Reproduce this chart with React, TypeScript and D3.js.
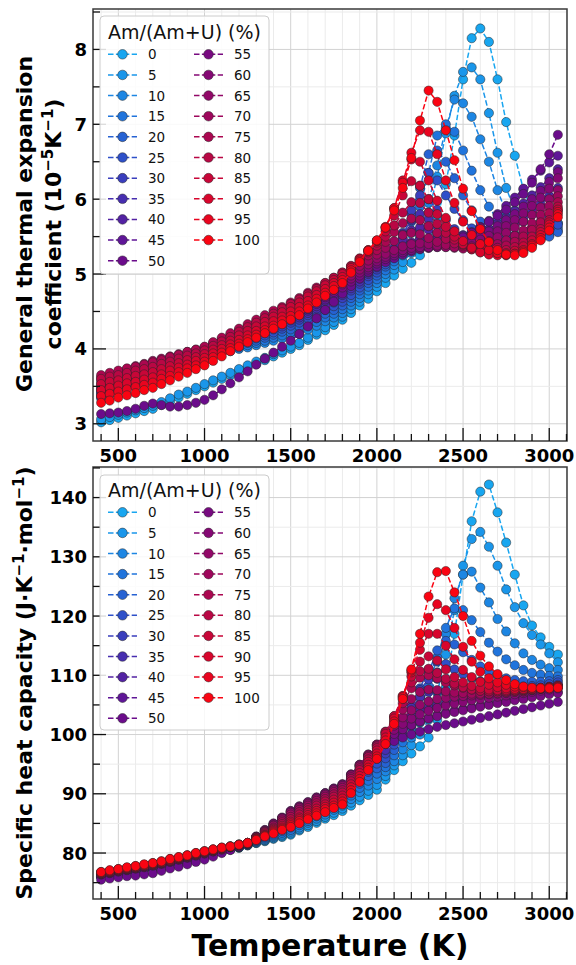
import React from "react";
import * as d3 from "d3";

// ---------- data ----------
const TEMPERATURES = [400,450,500,550,600,650,700,750,800,850,900,950,1000,1050,1100,1150,1200,1250,1300,1350,1400,1450,1500,1550,1600,1650,1700,1750,1800,1850,1900,1950,2000,2050,2100,2150,2200,2250,2300,2350,2400,2450,2500,2550,2600,2650,2700,2750,2800,2850,2900,2950,3000,3050];

const COMPOSITIONS = [0,5,10,15,20,25,30,35,40,45,50,55,60,65,70,75,80,85,90,95,100];

const SERIES_COLORS = ["#18a6f0","#1a96ea","#1d86e3","#2074dc","#2662d3","#2e50c9","#3a3ebd","#472eb0","#5322a3","#5f1697","#6b0c8b","#780a80","#850874","#920868","#9e075c","#ab0750","#b90744","#c80638","#d8052c","#e9041f","#fa0412"];

// General thermal expansion coefficient (1e-5 K^-1)
const ALPHA_00 = [3.02,3.05,3.08,3.11,3.14,3.17,3.20,3.25,3.30,3.35,3.40,3.45,3.50,3.55,3.60,3.65,3.70,3.75,3.80,3.85,3.90,3.95,4.00,4.05,4.12,4.19,4.25,4.32,4.39,4.48,4.58,4.67,4.77,4.88,4.98,5.07,5.15,5.25,5.40,5.75,6.20,6.85,7.60,8.15,8.28,8.10,7.60,7.03,6.58,6.13,5.85,5.70,5.65,5.68];
const ALPHA_05 = [3.06,3.09,3.12,3.15,3.18,3.21,3.24,3.29,3.34,3.39,3.43,3.48,3.53,3.58,3.63,3.68,3.73,3.78,3.83,3.88,3.93,3.98,4.03,4.08,4.15,4.22,4.29,4.36,4.43,4.53,4.63,4.73,4.83,4.95,5.06,5.16,5.28,5.48,5.82,6.30,6.88,7.38,7.70,7.76,7.60,7.15,6.62,6.15,5.85,5.70,5.62,5.60,5.62,5.68];
const ALPHA_10 = [3.34,3.39,3.43,3.48,3.53,3.57,3.62,3.67,3.71,3.76,3.81,3.85,3.90,3.92,3.95,3.97,4.00,4.02,4.05,4.08,4.11,4.14,4.17,4.20,4.26,4.31,4.37,4.42,4.48,4.58,4.68,4.78,4.88,5.00,5.12,5.25,5.40,5.60,5.95,6.45,6.95,7.33,7.28,7.10,6.80,6.50,6.12,5.82,5.65,5.55,5.52,5.52,5.56,5.62];
const ALPHA_15 = [3.36,3.41,3.45,3.50,3.55,3.59,3.64,3.68,3.73,3.77,3.82,3.86,3.91,3.94,3.97,3.99,4.02,4.05,4.08,4.11,4.15,4.18,4.22,4.25,4.31,4.36,4.42,4.47,4.53,4.63,4.73,4.83,4.93,5.05,5.17,5.32,5.55,5.90,6.35,6.85,7.00,6.90,6.65,6.38,6.12,5.90,5.72,5.60,5.52,5.48,5.47,5.48,5.52,5.58];
const ALPHA_20 = [3.38,3.43,3.47,3.52,3.57,3.61,3.66,3.70,3.75,3.79,3.83,3.88,3.92,3.95,3.98,4.02,4.05,4.08,4.11,4.15,4.19,4.23,4.26,4.30,4.36,4.41,4.47,4.52,4.58,4.68,4.78,4.88,4.98,5.10,5.22,5.40,5.70,6.15,6.60,6.65,6.50,6.28,6.05,5.85,5.70,5.58,5.50,5.45,5.42,5.42,5.43,5.46,5.50,5.56];
const ALPHA_25 = [3.40,3.45,3.49,3.54,3.59,3.63,3.68,3.72,3.76,3.80,3.85,3.89,3.93,3.97,4.00,4.04,4.07,4.11,4.14,4.18,4.22,4.27,4.31,4.35,4.41,4.46,4.52,4.57,4.63,4.72,4.82,4.92,5.02,5.13,5.27,5.48,5.80,6.18,6.35,6.25,6.05,5.87,5.72,5.61,5.53,5.48,5.45,5.44,5.44,5.46,5.49,5.53,5.59,5.66];
const ALPHA_30 = [3.42,3.47,3.51,3.56,3.61,3.65,3.70,3.74,3.78,3.82,3.86,3.90,3.94,3.98,4.02,4.06,4.09,4.13,4.17,4.21,4.26,4.30,4.35,4.39,4.45,4.51,4.57,4.62,4.68,4.78,4.87,4.97,5.06,5.18,5.33,5.55,5.85,6.05,6.00,5.86,5.72,5.60,5.52,5.47,5.45,5.45,5.46,5.48,5.51,5.55,5.61,5.68,5.76,5.86];
const ALPHA_35 = [3.44,3.49,3.53,3.58,3.63,3.67,3.72,3.76,3.80,3.84,3.87,3.91,3.95,3.99,4.03,4.08,4.12,4.16,4.20,4.24,4.29,4.33,4.38,4.42,4.48,4.54,4.60,4.66,4.72,4.81,4.90,5.00,5.09,5.20,5.35,5.53,5.72,5.80,5.74,5.64,5.56,5.50,5.48,5.48,5.50,5.53,5.57,5.62,5.68,5.75,5.83,5.93,6.04,6.15];
const ALPHA_40 = [3.46,3.51,3.55,3.60,3.65,3.69,3.74,3.78,3.81,3.85,3.89,3.92,3.96,4.00,4.05,4.09,4.13,4.18,4.22,4.27,4.31,4.36,4.40,4.45,4.51,4.57,4.64,4.70,4.76,4.85,4.94,5.02,5.11,5.20,5.32,5.46,5.58,5.62,5.59,5.53,5.49,5.48,5.49,5.51,5.55,5.60,5.67,5.75,5.84,5.94,6.05,6.16,6.28,6.40];
const ALPHA_45 = [3.48,3.53,3.57,3.62,3.67,3.71,3.76,3.80,3.83,3.87,3.90,3.94,3.97,4.02,4.06,4.11,4.15,4.20,4.24,4.29,4.33,4.38,4.42,4.47,4.53,4.60,4.66,4.73,4.79,4.87,4.95,5.04,5.12,5.18,5.26,5.34,5.42,5.46,5.47,5.47,5.47,5.48,5.51,5.56,5.63,5.71,5.80,5.91,6.02,6.14,6.26,6.38,6.49,6.58];
const ALPHA_50 = [3.13,3.14,3.15,3.17,3.20,3.24,3.27,3.25,3.23,3.23,3.25,3.28,3.32,3.38,3.46,3.54,3.62,3.70,3.79,3.87,3.95,4.03,4.11,4.20,4.30,4.41,4.52,4.63,4.74,4.84,4.94,5.03,5.10,5.16,5.21,5.26,5.30,5.33,5.35,5.37,5.40,5.44,5.49,5.55,5.62,5.70,5.78,5.86,5.96,6.07,6.22,6.40,6.60,6.86];
const ALPHA_55 = [3.50,3.55,3.59,3.64,3.69,3.73,3.78,3.81,3.85,3.88,3.91,3.95,3.98,4.03,4.08,4.14,4.19,4.24,4.29,4.33,4.37,4.42,4.46,4.50,4.56,4.63,4.69,4.76,4.82,4.90,4.98,5.06,5.14,5.20,5.25,5.29,5.32,5.34,5.35,5.36,5.37,5.39,5.42,5.46,5.51,5.57,5.64,5.72,5.80,5.90,6.00,6.11,6.23,6.36];
const ALPHA_60 = [3.54,3.58,3.63,3.67,3.71,3.76,3.80,3.83,3.86,3.90,3.93,3.96,3.99,4.04,4.10,4.15,4.20,4.26,4.31,4.35,4.40,4.44,4.49,4.53,4.60,4.66,4.73,4.79,4.86,4.94,5.02,5.09,5.17,5.23,5.28,5.32,5.35,5.36,5.36,5.36,5.36,5.37,5.39,5.42,5.46,5.51,5.57,5.64,5.72,5.81,5.91,6.02,6.14,6.28];
const ALPHA_65 = [3.58,3.62,3.66,3.70,3.74,3.78,3.82,3.85,3.88,3.91,3.94,3.97,4.00,4.06,4.11,4.17,4.22,4.28,4.33,4.38,4.43,4.47,4.52,4.57,4.64,4.70,4.77,4.83,4.90,4.98,5.06,5.13,5.21,5.27,5.32,5.37,5.40,5.41,5.40,5.38,5.36,5.35,5.35,5.37,5.40,5.44,5.49,5.55,5.62,5.70,5.79,5.89,6.00,6.12];
const ALPHA_70 = [3.62,3.66,3.69,3.73,3.77,3.80,3.84,3.87,3.90,3.93,3.96,3.99,4.02,4.08,4.13,4.19,4.25,4.30,4.36,4.41,4.46,4.52,4.57,4.62,4.69,4.75,4.82,4.88,4.95,5.03,5.11,5.18,5.26,5.35,5.44,5.52,5.55,5.53,5.48,5.43,5.39,5.36,5.34,5.33,5.34,5.36,5.40,5.45,5.51,5.58,5.68,5.79,5.91,6.04];
const ALPHA_75 = [3.65,3.68,3.71,3.74,3.76,3.79,3.82,3.85,3.89,3.92,3.96,3.99,4.03,4.09,4.15,4.21,4.27,4.33,4.39,4.45,4.51,4.56,4.62,4.68,4.75,4.82,4.88,4.95,5.02,5.10,5.17,5.25,5.32,5.43,5.56,5.68,5.74,5.72,5.64,5.55,5.47,5.41,5.37,5.34,5.33,5.33,5.35,5.38,5.43,5.50,5.59,5.69,5.81,5.96];
const ALPHA_80 = [3.60,3.63,3.65,3.68,3.71,3.73,3.76,3.80,3.83,3.87,3.91,3.94,3.98,4.04,4.10,4.16,4.23,4.29,4.35,4.41,4.47,4.54,4.60,4.66,4.73,4.80,4.88,4.95,5.02,5.11,5.20,5.29,5.38,5.50,5.65,5.82,5.96,5.95,5.82,5.67,5.55,5.46,5.39,5.34,5.31,5.30,5.30,5.32,5.36,5.42,5.50,5.60,5.72,5.90];
const ALPHA_85 = [3.53,3.56,3.58,3.61,3.64,3.66,3.69,3.73,3.77,3.81,3.85,3.89,3.93,3.99,4.05,4.11,4.18,4.24,4.30,4.36,4.43,4.49,4.56,4.62,4.70,4.77,4.85,4.92,5.00,5.10,5.21,5.31,5.42,5.57,5.78,6.05,6.24,6.18,6.00,5.80,5.63,5.50,5.40,5.33,5.29,5.27,5.27,5.28,5.31,5.37,5.45,5.56,5.69,5.86];
const ALPHA_90 = [3.45,3.48,3.51,3.54,3.56,3.59,3.62,3.66,3.71,3.75,3.79,3.84,3.88,3.94,4.00,4.06,4.12,4.18,4.24,4.30,4.37,4.43,4.50,4.56,4.64,4.72,4.80,4.88,4.96,5.08,5.20,5.32,5.44,5.62,5.88,6.25,6.53,6.50,6.25,5.98,5.75,5.57,5.44,5.35,5.29,5.26,5.25,5.25,5.27,5.32,5.40,5.52,5.66,5.83];
const ALPHA_95 = [3.37,3.40,3.43,3.46,3.49,3.52,3.55,3.60,3.64,3.69,3.74,3.78,3.83,3.89,3.95,4.01,4.07,4.13,4.19,4.25,4.31,4.38,4.44,4.50,4.58,4.67,4.75,4.84,4.92,5.05,5.18,5.32,5.45,5.63,5.88,6.22,6.62,6.92,6.90,6.60,6.25,5.95,5.70,5.52,5.40,5.32,5.28,5.26,5.27,5.30,5.38,5.48,5.62,5.80];
const ALPHA_100 = [3.28,3.31,3.35,3.38,3.41,3.45,3.48,3.53,3.58,3.63,3.68,3.73,3.78,3.84,3.90,3.97,4.03,4.09,4.15,4.21,4.27,4.33,4.39,4.45,4.54,4.62,4.71,4.79,4.88,5.02,5.16,5.31,5.45,5.62,5.85,6.15,6.55,7.05,7.45,7.30,6.92,6.52,6.14,5.84,5.60,5.43,5.32,5.26,5.25,5.28,5.35,5.45,5.58,5.76];

// Specific heat capacity (J K^-1 mol^-1)
const CP_00 = [76.0,76.3,76.5,76.8,77.0,77.3,77.5,77.8,78.2,78.5,78.8,79.2,79.5,79.9,80.2,80.6,80.9,81.3,81.7,82.0,82.4,82.7,83.1,83.8,84.4,85.1,85.8,86.4,87.1,88.0,88.9,89.8,90.7,92.4,94.0,95.5,96.8,98.0,99.5,102.5,108.0,117.0,127.0,136.0,141.0,142.2,137.5,132.4,127.0,121.8,118.4,116.4,114.8,113.5];
const CP_05 = [76.0,76.3,76.5,76.8,77.0,77.3,77.5,77.8,78.2,78.5,78.8,79.2,79.5,79.9,80.2,80.6,80.9,81.3,81.7,82.1,82.5,82.9,83.3,84.0,84.7,85.4,86.1,86.8,87.5,88.5,89.5,90.5,91.5,93.0,94.8,96.5,98.2,100.0,102.5,107.0,113.5,121.0,128.5,133.0,134.2,131.7,128.5,124.5,121.5,118.8,116.8,115.2,113.7,112.2];
const CP_10 = [76.1,76.3,76.6,76.8,77.1,77.3,77.6,77.9,78.2,78.6,78.9,79.2,79.6,79.9,80.3,80.6,81.0,81.4,81.8,82.2,82.7,83.1,83.6,84.3,85.1,85.8,86.5,87.3,88.0,89.1,90.3,91.4,92.5,93.8,95.5,97.5,99.5,102.0,105.5,110.5,117.0,123.0,127.0,127.5,124.8,122.3,119.5,117.4,115.4,113.7,112.6,111.8,111.2,110.9];
const CP_15 = [76.1,76.3,76.6,76.8,77.1,77.3,77.6,77.9,78.2,78.6,78.9,79.2,79.6,79.9,80.3,80.7,81.0,81.4,81.9,82.4,82.9,83.4,83.9,84.7,85.4,86.2,87.0,87.7,88.5,89.7,91.0,92.2,93.4,94.5,96.5,98.7,101.2,104.2,108.2,113.0,118.0,121.3,121.0,119.3,117.3,115.5,114.0,112.7,111.7,110.9,110.4,110.1,109.9,109.8];
const CP_20 = [76.1,76.4,76.6,76.9,77.1,77.4,77.6,77.9,78.3,78.6,78.9,79.3,79.6,80.0,80.3,80.7,81.0,81.4,82.0,82.6,83.1,83.7,84.3,85.1,85.9,86.7,87.4,88.2,89.0,90.3,91.7,93.0,94.3,95.2,97.4,99.9,102.8,106.4,110.5,114.2,115.8,115.2,113.9,112.6,111.5,110.6,110.0,109.5,109.2,109.0,108.9,108.9,109.0,109.2];
const CP_25 = [76.1,76.4,76.6,76.9,77.1,77.4,77.6,77.9,78.3,78.6,78.9,79.3,79.6,80.0,80.3,80.7,81.1,81.5,82.1,82.8,83.5,84.1,84.8,85.6,86.4,87.2,88.0,88.8,89.6,91.0,92.4,93.7,95.1,96.0,98.3,101.0,104.2,107.8,111.0,112.3,111.9,111.0,110.2,109.5,109.0,108.6,108.3,108.2,108.1,108.1,108.2,108.3,108.5,108.8];
const CP_30 = [76.2,76.4,76.7,76.9,77.2,77.4,77.7,78.0,78.3,78.7,79.0,79.3,79.7,80.0,80.4,80.8,81.1,81.5,82.3,83.0,83.8,84.5,85.3,86.1,86.9,87.8,88.6,89.4,90.2,91.6,93.1,94.5,95.9,96.8,99.2,101.9,104.8,107.5,109.3,109.4,108.9,108.3,107.9,107.6,107.4,107.3,107.3,107.3,107.4,107.5,107.7,107.9,108.1,108.4];
const CP_35 = [76.2,76.4,76.7,76.9,77.2,77.4,77.7,78.0,78.3,78.7,79.0,79.3,79.7,80.0,80.4,80.8,81.1,81.5,82.4,83.2,84.1,84.9,85.8,86.6,87.4,88.3,89.1,89.9,90.7,92.2,93.7,95.1,96.6,97.4,99.8,102.2,104.5,106.3,107.2,107.3,107.0,106.8,106.7,106.7,106.7,106.8,106.9,107.0,107.1,107.3,107.5,107.7,107.9,108.1];
const CP_40 = [76.2,76.5,76.7,77.0,77.2,77.5,77.7,78.0,78.4,78.7,79.0,79.4,79.7,80.1,80.4,80.8,81.2,81.6,82.5,83.5,84.4,85.4,86.3,87.1,87.9,88.7,89.5,90.3,91.1,92.6,94.2,95.7,97.2,98.5,100.2,101.8,103.1,104.0,104.6,105.0,105.3,105.6,105.9,106.1,106.3,106.5,106.7,106.9,107.1,107.3,107.5,107.7,107.9,108.1];
const CP_45 = [76.2,76.5,76.7,77.0,77.2,77.5,77.7,78.0,78.4,78.7,79.0,79.4,79.7,80.1,80.5,80.8,81.2,81.6,82.6,83.6,84.7,85.7,86.7,87.5,88.3,89.1,89.8,90.6,91.4,93.0,94.6,96.1,97.7,98.4,99.6,100.6,101.5,102.2,102.8,103.3,103.7,104.0,104.3,104.6,104.9,105.2,105.5,105.7,106.0,106.2,106.5,106.7,107.0,107.2];
const CP_50 = [75.5,75.7,75.9,76.1,76.2,76.4,76.6,77.0,77.4,77.7,78.1,78.5,78.9,79.4,80.0,80.5,81.1,81.6,82.7,83.8,84.8,85.9,87.0,87.8,88.5,89.3,90.1,90.8,91.6,93.2,94.8,96.4,98.0,98.4,98.9,99.5,100.0,100.5,100.9,101.3,101.6,101.9,102.2,102.5,102.8,103.1,103.4,103.7,104.0,104.3,104.6,104.9,105.2,105.5];
const CP_55 = [76.4,76.6,76.9,77.1,77.4,77.6,77.9,78.2,78.5,78.9,79.2,79.6,79.9,80.3,80.6,81.0,81.3,81.7,82.8,83.9,85.0,86.0,87.1,87.9,88.6,89.4,90.1,90.9,91.6,93.3,94.9,96.6,98.2,99.2,100.1,100.9,101.6,102.2,102.7,103.1,103.5,103.8,104.1,104.4,104.7,105.0,105.3,105.5,105.8,106.0,106.3,106.5,106.8,107.0];
const CP_60 = [76.4,76.7,76.9,77.2,77.4,77.7,77.9,78.2,78.6,78.9,79.3,79.6,80.0,80.3,80.6,81.0,81.3,81.7,82.7,83.8,84.9,85.9,87.0,87.8,88.5,89.3,90.0,90.8,91.5,93.2,94.9,96.6,98.3,99.6,100.8,101.8,102.7,103.4,104.0,104.5,104.9,105.2,105.5,105.8,106.0,106.2,106.4,106.6,106.8,107.0,107.2,107.4,107.6,107.8];
const CP_65 = [76.5,76.7,77.0,77.2,77.5,77.7,78.0,78.3,78.6,79.0,79.3,79.7,80.0,80.3,80.7,81.0,81.3,81.7,82.7,83.7,84.7,85.8,86.8,87.6,88.3,89.1,89.8,90.6,91.3,93.1,94.8,96.6,98.3,100.0,101.5,102.9,104.1,105.0,105.6,106.0,106.2,106.4,106.5,106.6,106.7,106.8,106.9,107.0,107.2,107.3,107.5,107.7,107.9,108.1];
const CP_70 = [76.5,76.8,77.0,77.3,77.5,77.8,78.0,78.3,78.7,79.0,79.4,79.7,80.1,80.4,80.7,81.0,81.4,81.7,82.7,83.6,84.6,85.5,86.5,87.3,88.0,88.8,89.5,90.3,91.0,92.8,94.6,96.4,98.2,100.3,102.2,104.2,106.0,107.2,107.6,107.5,107.3,107.1,107.0,106.9,106.9,106.9,107.0,107.1,107.2,107.3,107.5,107.7,107.9,108.1];
const CP_75 = [76.6,76.8,77.1,77.3,77.6,77.8,78.1,78.4,78.7,79.1,79.4,79.8,80.1,80.4,80.7,81.1,81.4,81.7,82.6,83.5,84.3,85.2,86.1,86.9,87.6,88.4,89.1,89.9,90.6,92.5,94.3,96.2,98.0,100.5,102.8,105.3,107.8,109.6,110.0,109.5,108.8,108.3,107.9,107.6,107.4,107.3,107.3,107.3,107.4,107.5,107.6,107.8,108.0,108.2];
const CP_80 = [76.6,76.9,77.1,77.4,77.6,77.9,78.1,78.4,78.8,79.1,79.5,79.8,80.2,80.5,80.8,81.1,81.4,81.7,82.5,83.3,84.1,84.9,85.7,86.5,87.2,88.0,88.7,89.5,90.2,92.1,94.0,95.8,97.7,100.4,103.1,106.0,108.8,110.7,111.1,110.4,109.4,108.6,108.0,107.6,107.4,107.3,107.3,107.3,107.4,107.5,107.6,107.8,108.0,108.2];
const CP_85 = [76.7,76.9,77.2,77.4,77.7,77.9,78.2,78.5,78.8,79.2,79.5,79.9,80.2,80.5,80.8,81.1,81.4,81.7,82.4,83.1,83.9,84.6,85.3,86.0,86.8,87.5,88.2,89.0,89.7,91.6,93.5,95.4,97.3,100.1,103.1,106.5,109.8,112.3,113.2,112.5,111.0,109.7,108.8,108.2,107.8,107.6,107.5,107.5,107.5,107.6,107.7,107.8,108.0,108.2];
const CP_90 = [76.7,77.0,77.2,77.5,77.7,78.0,78.2,78.5,78.9,79.2,79.6,79.9,80.3,80.6,80.9,81.1,81.4,81.7,82.4,83.0,83.7,84.3,85.0,85.7,86.4,87.1,87.8,88.5,89.2,91.1,93.0,94.9,96.8,99.5,102.7,106.5,110.5,114.3,117.0,117.0,115.0,112.7,110.9,109.7,108.9,108.4,108.0,107.8,107.7,107.7,107.7,107.8,107.9,108.1];
const CP_95 = [76.8,77.0,77.3,77.5,77.8,78.0,78.3,78.6,79.0,79.3,79.6,80.0,80.3,80.6,80.9,81.1,81.4,81.7,82.3,82.9,83.5,84.1,84.7,85.4,86.0,86.7,87.4,88.0,88.7,90.6,92.5,94.4,96.3,99.0,102.2,106.3,110.8,115.5,119.7,122.0,121.0,118.0,114.8,112.3,110.6,109.5,108.8,108.4,108.1,108.0,107.9,107.9,107.9,108.0];
const CP_100 = [76.8,77.1,77.3,77.6,77.8,78.1,78.3,78.6,79.0,79.3,79.6,80.0,80.3,80.6,80.9,81.1,81.4,81.7,82.2,82.8,83.3,83.9,84.4,85.0,85.7,86.3,86.9,87.6,88.2,90.1,92.0,94.0,95.9,98.4,101.8,106.0,111.0,117.0,123.3,127.4,127.6,124.0,120.0,115.8,113.3,111.5,110.2,109.2,108.5,108.1,107.9,107.8,107.8,107.9];

const ALPHA_SERIES = [ALPHA_00,ALPHA_05,ALPHA_10,ALPHA_15,ALPHA_20,ALPHA_25,ALPHA_30,ALPHA_35,ALPHA_40,ALPHA_45,ALPHA_50,ALPHA_55,ALPHA_60,ALPHA_65,ALPHA_70,ALPHA_75,ALPHA_80,ALPHA_85,ALPHA_90,ALPHA_95,ALPHA_100];
const CP_SERIES = [CP_00,CP_05,CP_10,CP_15,CP_20,CP_25,CP_30,CP_35,CP_40,CP_45,CP_50,CP_55,CP_60,CP_65,CP_70,CP_75,CP_80,CP_85,CP_90,CP_95,CP_100];

const X_TICKS = [500, 1000, 1500, 2000, 2500, 3000];
const ALPHA_TICKS = [3, 4, 5, 6, 7, 8];
const CP_TICKS = [80, 90, 100, 110, 120, 130, 140];

// ---------- layout ----------
const W = 576;
const H = 965;
const FONT = "'DejaVu Sans', 'Liberation Sans', sans-serif";
const PL = 93;
const PR = 567;
const x = d3.scaleLinear().domain([353, 3103]).range([PL, PR]);
const X_MINOR = d3.range(400, 3101, 100);

type PanelProps = {
  id: string;
  series: number[][];
  yDomain: [number, number];
  top: number;
  bottom: number;
  majorY: number[];
  minorY: number[];
  majorStep: number;
  xLabelY: number;
  legendTop: number;
  legendH: number;
  titleBase: number;
  row0: number;
  rowStep: number;
};

function Panel(p: PanelProps) {
  const y = d3.scaleLinear().domain(p.yDomain).range([p.bottom, p.top]);
  const line = d3
    .line<number>()
    .x((_, i) => x(TEMPERATURES[i]))
    .y((v) => y(v));
  const isMajor = (v: number) => Math.abs(v / p.majorStep - Math.round(v / p.majorStep)) < 1e-6;
  return (
    <g>
      <defs>
        <clipPath id={p.id}>
          <rect x={PL} y={p.top} width={PR - PL} height={p.bottom - p.top} />
        </clipPath>
      </defs>
      {/* grid */}
      {X_MINOR.map((t) => (
        <line key={"gx" + t} x1={x(t)} x2={x(t)} y1={p.top} y2={p.bottom}
          stroke={t % 500 === 0 ? "#d2d2d2" : "#ebebeb"} strokeWidth={1} />
      ))}
      {p.minorY.map((v) => (
        <line key={"gy" + v} x1={PL} x2={PR} y1={y(v)} y2={y(v)}
          stroke={isMajor(v) ? "#d2d2d2" : "#ebebeb"} strokeWidth={1} />
      ))}
      {/* data */}
      <g clipPath={`url(#${p.id})`}>
        {p.series.map((vals, k) => (
          <g key={k}>
            <path d={line(vals) || ""} fill="none" stroke={SERIES_COLORS[k]}
              strokeWidth={1.5} strokeDasharray="5.5,2.4" />
            {vals.map((v, i) => (
              <circle key={i} cx={x(TEMPERATURES[i])} cy={y(v)} r={4.6}
                fill={SERIES_COLORS[k]} stroke="#262626" strokeWidth={0.5} />
            ))}
          </g>
        ))}
      </g>
      {/* frame */}
      <rect x={PL} y={p.top} width={PR - PL} height={p.bottom - p.top}
        fill="none" stroke="#3a3a3a" strokeWidth={1.5} />
      {/* x ticks */}
      {X_MINOR.map((t) => (
        <line key={"tx" + t} x1={x(t)} x2={x(t)} y1={p.bottom}
          y2={p.bottom - (t % 500 === 0 ? 13 : 7)} stroke="#111" strokeWidth={1.3} />
      ))}
      {X_TICKS.map((t) => (
        <text key={"lx" + t} x={x(t)} y={p.xLabelY} textAnchor="middle"
          fontFamily={FONT} fontWeight="bold" fontSize={18} fill="#000">{t}</text>
      ))}
      {/* y ticks */}
      {p.minorY.map((v) => (
        <line key={"ty" + v} x1={PL} x2={PL + (isMajor(v) ? 13 : 7)} y1={y(v)} y2={y(v)}
          stroke="#111" strokeWidth={1.3} />
      ))}
      {p.majorY.map((v) => (
        <text key={"ly" + v} x={87} y={y(v) + 6.5} textAnchor="end"
          fontFamily={FONT} fontWeight="bold" fontSize={18} fill="#000">{v}</text>
      ))}
      {/* legend */}
      <rect x={100} y={p.legendTop} width={169} height={p.legendH} rx={4}
        fill="#ffffff" fillOpacity={0.85} stroke="#cccccc" strokeWidth={1} />
      <text x={184.5} y={p.titleBase} textAnchor="middle" fontFamily={FONT}
        fontSize={19} fill="#111">Am/(Am+U) (%)</text>
      {COMPOSITIONS.map((c, k) => {
        const col = k <= 10 ? 0 : 1;
        const row = k <= 10 ? k : k - 11;
        const cy = p.row0 + row * p.rowStep;
        const x0 = col === 0 ? 108 : 194;
        return (
          <g key={"lg" + c}>
            <line x1={x0} x2={x0 + 29} y1={cy} y2={cy} stroke={SERIES_COLORS[k]}
              strokeWidth={1.5} strokeDasharray="5.5,2.4" />
            <circle cx={x0 + 14.5} cy={cy} r={4.8} fill={SERIES_COLORS[k]}
              stroke="#262626" strokeWidth={0.5} />
            <text x={x0 + 40} y={cy + 5} fontFamily={FONT} fontSize={13.5} fill="#111">{c}</text>
          </g>
        );
      })}
    </g>
  );
}

export default function App() {
  return (
    <svg width={W} height={H} viewBox={`0 0 ${W} ${H}`}
      style={{ position: "absolute", left: 0, top: 0, display: "block", background: "#fff" }}>
      <rect x={0} y={0} width={W} height={H} fill="#fff" />
      <Panel id="clipTop" series={ALPHA_SERIES} yDomain={[2.77, 8.54]} top={9} bottom={441}
        majorY={ALPHA_TICKS} minorY={d3.range(3, 8.51, 0.5)} majorStep={1} xLabelY={462}
        legendTop={16} legendH={258} titleBase={38.5} row0={54.3} rowStep={20.64} />
      <Panel id="clipBottom" series={CP_SERIES} yDomain={[72.24, 145.16]} top={467} bottom={899}
        majorY={CP_TICKS} minorY={d3.range(75, 145.1, 5)} majorStep={10} xLabelY={920}
        legendTop={475} legendH={255} titleBase={497} row0={512.3} rowStep={20.6} />
      {/* axis titles */}
      <text transform="rotate(-90)" x={-224} y={32} textAnchor="middle" fontFamily={FONT}
        fontWeight="bold" fontSize={22} fill="#000">General thermal expansion</text>
      <text transform="rotate(-90)" x={-224} y={61} textAnchor="middle" fontFamily={FONT}
        fontWeight="bold" fontSize={22} fill="#000">
        <tspan>coefficient (10</tspan>
        <tspan dy={-8} fontSize={15}>−5</tspan>
        <tspan dy={8}>K</tspan>
        <tspan dy={-8} fontSize={15}>−1</tspan>
        <tspan dy={8}>)</tspan>
      </text>
      <text transform="rotate(-90)" x={-683} y={32} textAnchor="middle" fontFamily={FONT}
        fontWeight="bold" fontSize={22} fill="#000">
        <tspan>Specific heat capacity (J·K</tspan>
        <tspan dy={-8} fontSize={15}>−1</tspan>
        <tspan dy={8}>·mol</tspan>
        <tspan dy={-8} fontSize={15}>−1</tspan>
        <tspan dy={8}>)</tspan>
      </text>
      <text x={330} y={956} textAnchor="middle" fontFamily={FONT} fontWeight="bold"
        fontSize={30} fill="#000">Temperature (K)</text>
    </svg>
  );
}
